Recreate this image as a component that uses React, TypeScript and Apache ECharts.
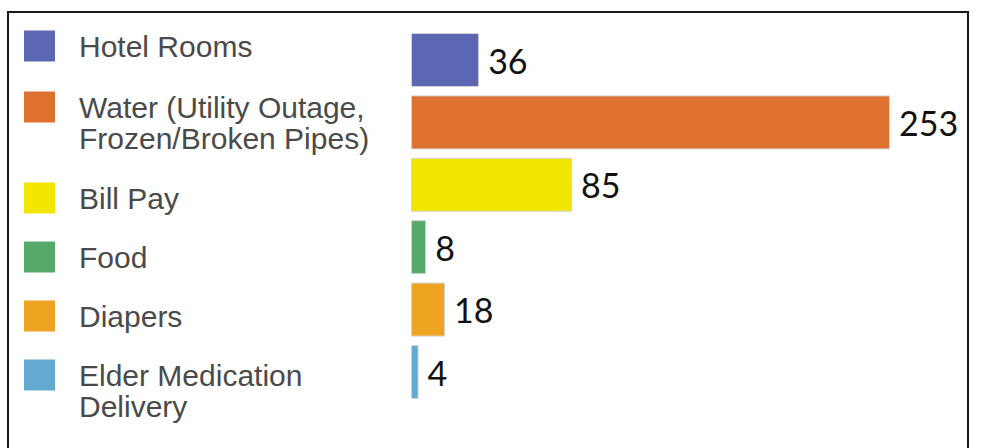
import React, { useEffect, useRef } from "react";
import * as echarts from "echarts";

const categories = [
  "Hotel Rooms",
  "Water (Utility Outage, Frozen/Broken Pipes)",
  "Bill Pay",
  "Food",
  "Diapers",
  "Elder Medication Delivery",
];
const legendLabels = [
  "Hotel Rooms",
  "\nWater (Utility Outage,\nFrozen/Broken Pipes)",
  "Bill Pay",
  "Food",
  "Diapers",
  "\nElder Medication\nDelivery",
];
const values = [36, 253, 85, 8, 18, 4];
const colors = ["#5B67B2", "#DE7030", "#F2E600", "#55AA6B", "#EEA420", "#62AAD0"];
const legendTops = [30.5, 60.5, 182.5, 241.5, 300.5, 328.5];

export default function App() {
  const ref = useRef<HTMLDivElement>(null);
  useEffect(() => {
    if (!ref.current) return;
    const chart = echarts.init(ref.current, undefined, { renderer: "svg" });
    const series = categories.map((name, i) => ({
      name,
      type: "bar",
      stack: "total",
      barCategoryGap: "13.5%",
      data: categories.map((_, j) => (j === i ? values[i] : "-")),
      itemStyle: { color: colors[i], borderColor: "#d4d4d4", borderWidth: 1 },
      label: {
        show: true,
        position: "right",
        distance: 9,
        color: "#111",
        fontFamily: "Lato",
        fontSize: 34,
      },
    }));
    const legends = categories.map((name, i) => ({
      data: [name],
      orient: "vertical",
      left: 24,
      top: legendTops[i],
      padding: 0,
      itemWidth: 31,
      itemHeight: 31,
      icon: "rect",
      selectedMode: false,
      itemStyle: { borderWidth: 0 },
      formatter: () => legendLabels[i],
      textStyle: {
        color: "#4a4a4a",
        fontFamily: "Liberation Sans",
        fontSize: 30,
        lineHeight: 31,
        padding: [0, 0, 0, 19],
      },
    }));
    chart.setOption({
      animation: false,
      backgroundColor: "#ffffff",
      legend: legends,
      grid: { left: 411, right: 84.8, top: 28.8, bottom: 44.8, containLabel: false },
      xAxis: { type: "value", min: 0, max: 260, show: false },
      yAxis: { type: "category", data: categories, inverse: true, show: false },
      graphic: [
        {
          type: "rect",
          shape: { x: 8, y: 12, width: 960, height: 460 },
          style: { fill: "none", stroke: "#1a1a1a", lineWidth: 2 },
          silent: true,
        },
      ],
      series,
    });
    return () => chart.dispose();
  }, []);
  return (
    <div
      ref={ref}
      style={{ position: "absolute", left: 0, top: 0, width: 988, height: 448 }}
    />
  );
}
